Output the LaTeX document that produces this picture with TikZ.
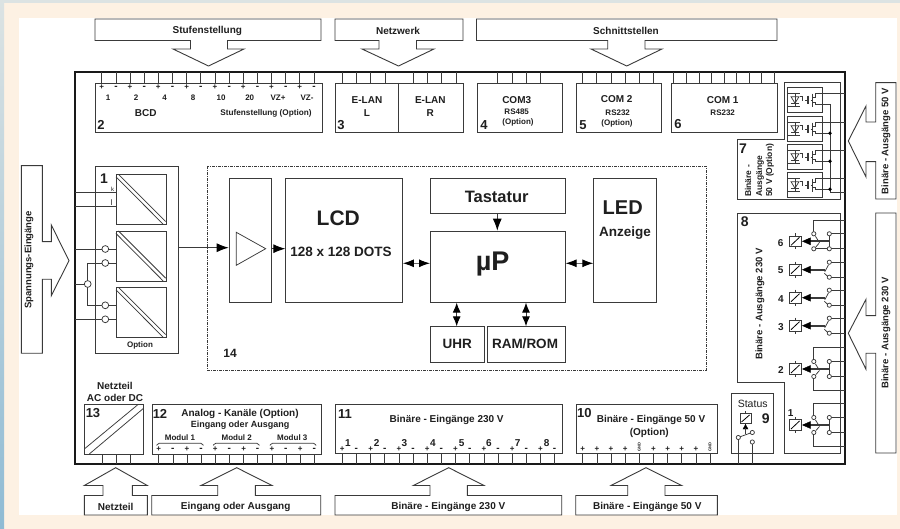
\documentclass[tikz,border=0pt]{standalone}
\usepackage{fontspec}
\setmainfont{Liberation Sans}
\usetikzlibrary{arrows.meta,calc}
\definecolor{cream}{HTML}{FDF1E3}
\definecolor{stripA}{HTML}{DCE3E3}
\definecolor{stripB}{HTML}{8FBBD4}
\definecolor{edge}{HTML}{3A3A3A}
\newcounter{tcnt}
\newcommand{\fs}[1]{\fontsize{#1}{#1}\selectfont}
% \tx[options]{x}{y}{size}{text}
\newcommand{\tx}[5][]{\stepcounter{tcnt}\node[lbl,#1] (t\arabic{tcnt}) at (#2,#3) {\fs{#4}#5};}
% \bx[options]{name}{x1}{y1}{x2}{y2}
\newcommand{\bx}[6][]{\pgfmathsetmacro{\bw}{#5-#3}\pgfmathsetmacro{\bh}{#6-#4}%
  \node[blk,#1,anchor=north west,minimum width=\bw pt,minimum height=\bh pt] (#2) at (#3,#4) {};}
% top arrow: box x1,x2 ; stem s1,s2 ; head h1,h2 ; tip
\newcommand{\toparrow}[7]{\draw[blk,line join=miter] (#1,19)--(#2,19)--(#2,40.5)--(#4,40.5)--(#4,49)--(#6,49)--(#7,66)--(#5,49)--(#3,49)--(#3,40.5)--(#1,40.5)--cycle;}
\newcommand{\botarrow}[7]{\draw[blk,line join=miter] (#1,515)--(#2,515)--(#2,495.5)--(#4,495.5)--(#4,485.5)--(#6,485.5)--(#7,467.7)--(#5,485.5)--(#3,485.5)--(#3,495.5)--(#1,495.5)--cycle;}
% right arrow: y1 y2 box ; n1 n2 notch ; h1 h2 head ; tip y
\newcommand{\rarrow}[7]{\draw[blk,line join=miter] (896,#1)--(875.7,#1)--(875.7,#3)--(866,#3)--(866,#5)--(848.3,#7)--(866,#6)--(866,#4)--(875.7,#4)--(875.7,#2)--(896,#2)--cycle;}
% optocoupler at top y
\newcommand{\opto}[1]{%
 \draw[blk] (787.3,#1) rectangle (822.7,#1+24.6);
 \draw[thinl] (787.3,#1+6) -- (800,#1+6) (787.3,#1+19) -- (800,#1+19);
 \draw[thinl] (795,#1+6)--(795,#1+19);
 \draw[thinl] (791,#1+9)--(799,#1+9)--(795,#1+15.5)--cycle;
 \draw[thinl] (791,#1+15.5)--(799,#1+15.5);
 \draw[thinl] (800,#1+9)--(802.5,#1+9)--(802.5,#1+13);
 \draw[thinl] (805,#1+12.3)--(808,#1+12.3);
 \draw[line width=1.1pt,edge] (808,#1+8)--(808,#1+16.5);
 \draw[thinl] (810.5,#1+12.3)--(812.5,#1+12.3);
 \draw[line width=1.1pt,edge] (812.5,#1+6)--(812.5,#1+19);
 \draw[thinl] (845,#1+6)--(815,#1+6)--(815,#1+10)--(812.5,#1+10);
 \draw[thinl] (812.5,#1+15)--(815,#1+15)--(815,#1+16.6)--(830,#1+16.6);
}
% relay coil, centre y
\newcommand{\coil}[1]{%
 \draw[thick,edge,fill=white] (789,#1-5.3) rectangle (801.7,#1+5.3);
 \draw[thinl] (795.3,#1-8)--(795.3,#1-5.3) (795.3,#1+5.3)--(795.3,#1+8);
 \draw[thick] (791,#1+4)--(799.5,#1-4);
}
% relay with single changeover contact
\newcommand{\relsingle}[1]{\coil{#1}
 \draw[line width=2pt,edge] (806,#1)--(825,#1);
 \draw[fill=black] (802.5,#1)--(810.5,#1-3.5)--(810.5,#1+3.5)--cycle;
 \draw[thinl] (828.6,#1-5)--(824.8,#1+2);
 \draw[thinl] (824.3,#1+3.5)--(827.5,#1+6.5);
 \draw[thinl] (829.3,#1-7.5)--(845,#1-7.5) (829.3,#1+7.5)--(845,#1+7.5);
 \draw[thinl,fill=white] (829.3,#1-7.5) circle (2.1) (829.3,#1+7.5) circle (2.1);
}
% relay with double contact, blades and fixed right contacts
\newcommand{\reldouble}[1]{\coil{#1}
 \draw[line width=2pt,edge] (806,#1)--(829.3,#1);
 \draw[line width=1.4pt,edge] (829.3,#1-7.5)--(829.3,#1+7.5);
 \draw[fill=black] (802.5,#1)--(810.5,#1-3.5)--(810.5,#1+3.5)--cycle;
 \draw[thinl] (815.5,#1-5)--(819.5,#1+1.5);
 \draw[thinl] (819,#1+2)--(816,#1+5.5);
 \draw[thinl] (829.3,#1-7.5)--(845,#1-7.5) (829.3,#1+7.5)--(845,#1+7.5);
 \draw[thinl] (813.8,#1-7.5)--(813.8,#1-21.3)--(845,#1-21.3);
}
\newcommand{\dotsrel}[1]{\draw[thinl,fill=white] (813.8,#1-7.5) circle (2.1) (813.8,#1+7.5) circle (2.1) (829.3,#1-7.5) circle (2.1) (829.3,#1+7.5) circle (2.1);}
\begin{document}
\begin{tikzpicture}[x=1pt,y=-1pt,
  lbl/.style={inner sep=0pt,font=\bfseries,text=black!88,align=center},
  blk/.style={draw=edge,line width=0.9pt,fill=white,inner sep=0pt},
  thinl/.style={draw=edge,line width=0.75pt},
  frm/.style={draw=black!90,line width=1.6pt},
  pin/.style={draw=edge,line width=0.7pt},
  ar/.style={-{Latex[length=12pt,width=9pt,color=black]},draw=edge,line width=0.9pt},
  dbl/.style={{Latex[length=11pt,width=8pt,color=black]}-{Latex[length=11pt,width=8pt,color=black]},draw=black!60,line width=0.9pt},
  dbv/.style={{Latex[length=10pt,width=8pt,color=black]}-{Latex[length=10pt,width=8pt,color=black]},draw=edge,line width=1pt},
  ]
\useasboundingbox (0,0) rectangle (900,529);
% page background
\fill[cream] (0,0) rectangle (900,529);
\shade[top color=stripA,bottom color=stripB] (0,0) rectangle (4,529);
\fill[stripA] (0,0) rectangle (900,3);
\fill[white] (19,18) rectangle (897,515);
% main frame
\draw[frm] (75,72) rectangle (845,464);
% pins top
\foreach \k in {0,...,15}{\draw[pin] ({101.7+14.15*\k},72)--({101.7+14.15*\k},83);}
\foreach \x in {342.7,356.7,370.7,385,413.3,427.3,441.7,456}{\draw[pin] (\x,72)--(\x,83);}
\foreach \x in {497.7,512,526,540.7}{\draw[pin] (\x,72)--(\x,83);}
\foreach \x in {582.3,596.7,611,625,639,653.7}{\draw[pin] (\x,72)--(\x,83);}
\foreach \x in {673.7,686.7,699.3,711.7,724,736.7,749,761.7,774}{\draw[pin] (\x,72)--(\x,83);}
% pins bottom
\foreach \x in {102,116,130}{\draw[pin] (\x,454)--(\x,464);}
\foreach \k in {0,...,11}{\draw[pin] ({158.7+14.15*\k},454)--({158.7+14.15*\k},464);}
\foreach \k in {0,...,15}{\draw[pin] ({342.3+14.16*\k},453.3)--({342.3+14.16*\k},464);}
\foreach \k in {0,...,9}{\draw[pin] ({582.7+14.15*\k},453.3)--({582.7+14.15*\k},464);}
% top boxes
\bx{b2}{95}{83}{321.5}{132.5}
\bx{b3}{335}{83}{463}{132.5}
\draw[blk] (398.7,83)--(398.7,132.5);
\bx{b4}{476.7}{83}{561.7}{132.5}
\bx{b5}{575.7}{83}{660.7}{132.5}
\bx{b6}{670.7}{83}{776.7}{132.5}
% outer arrows
\toparrow{95}{321}{190.5}{227.5}{173}{244}{208.5}
\toparrow{335}{463}{379}{416.5}{362}{434}{398.5}
\toparrow{476.5}{777}{607.7}{645}{591}{662}{626.7}
\botarrow{84.3}{147.3}{103}{132.3}{84.3}{147.3}{115.7}
\botarrow{151.7}{320.7}{217.7}{255.3}{201}{272}{236.7}
\botarrow{335}{561.7}{430}{467.3}{413.3}{484}{448.7}
\botarrow{575.7}{717.3}{627.7}{665}{611}{681.7}{646}
\rarrow{82.7}{199}{122}{161.7}{106}{177}{141}
\rarrow{213}{453}{315.7}{353.3}{299.3}{369.3}{333.3}
\draw[blk,line join=miter] (21.3,165.7)--(42.3,165.7)--(42.3,241.7)--(51.3,241.7)--(51.3,225)--(69,260.7)--(51.3,295.7)--(51.3,279.3)--(42.3,279.3)--(42.3,353.3)--(21.3,353.3)--cycle;
% block 1
\bx{b1}{95}{166}{178.3}{353.3}
\draw[thinl] (75,192.3)--(116,192.3) (75,206.7)--(116,206.7);
\draw[thinl] (75,249)--(116,249);
\draw[thinl] (75,319.3)--(116,319.3);
\draw[thinl] (75,284)--(87.7,284);
\draw[thinl] (116,263)--(87.7,263)--(87.7,305.3)--(116,305.3);
\foreach \c in {(105.3,249),(105.3,263),(105.3,305.3),(105.3,319.3),(87.7,284)}{\draw[thinl,fill=white] \c circle (3.4);}
\bx{c1}{116}{174.3}{165.7}{224.3}
\bx{c2}{116}{231}{165.7}{280.7}
\bx{c3}{116}{287.3}{165.7}{337.3}
\foreach \y in {174.3,231,287.3}{
 \draw[thinl] (118.5,\y)--(165.7,\y+47.2) (116,\y+2.5)--(163.2,\y+50);
}
% dashed block 14
\draw[edge,line width=0.8pt,dash pattern=on 3pt off 1pt on 1pt off 1pt] (207.3,166) rectangle (706,370);
\bx{amp}{228.7}{178}{270.7}{301.7}
\draw[thinl] (236.3,232.3)--(236.3,265.3)--(265.7,248.7)--cycle;
\bx{lcd}{285.3}{178}{402}{301.7}
\bx{up}{430}{230.7}{564.7}{301.7}
\bx{tast}{430}{178}{564.7}{213.3}
\bx{led}{593.3}{178}{656}{301.7}
\bx{uhr}{430}{326.3}{483.7}{361.7}
\bx{ram}{487}{326.3}{564.7}{361.7}
\draw[ar] (b1.east |- 0,247.7) -- (amp.west |- 0,247.7);
\draw[ar] (amp.east |- 0,248.7) -- (lcd.west |- 0,248.7);
\draw[dbl] (lcd.east |- 0,263.3) -- (up.west |- 0,263.3);
\draw[dbl] (up.east |- 0,263.3) -- (led.west |- 0,263.3);
\draw[ar] (tast.south -| 497.3,0) -- (up.north -| 497.3,0);
\draw[dbv] (up.south -| 456.7,0) -- (uhr.north -| 456.7,0);
\draw[dbv] (up.south -| 526,0) -- (ram.north -| 526,0);
% block 7
\draw[blk,line join=miter] (784,82.7)--(840,82.7)--(840,199.3)--(737.3,199.3)--(737.3,139.3)--(784,139.3)--cycle;
\opto{87.7}\opto{116.7}\opto{144.7}\opto{172.7}
\draw[thinl] (830,104.3)--(830,192.3)--(845,192.3);
\foreach \y in {133.3,161.3,189.3}{\fill[black] (830,\y) circle (1.9);}
% block 8
\draw[blk,line join=miter] (737.3,213.3)--(840,213.3)--(840,453.3)--(784,453.3)--(784,382.7)--(737.3,382.7)--cycle;
\reldouble{241.3}
\draw[thinl] (813.8,248.8)--(845,248.8);
\dotsrel{241.3}
\relsingle{269.7}\relsingle{297.7}\relsingle{325.7}
\reldouble{369}
\draw[thinl] (813.8,376.5)--(813.8,390)--(845,390);
\dotsrel{369}
\reldouble{425}
\draw[thinl] (813.8,432.5)--(813.8,446)--(845,446);
\dotsrel{425}
% status 9
\bx{b9}{730.7}{393.3}{773.3}{453.3}
\draw[thinl] (738.3,464)--(738.3,437.5) (752.3,464)--(752.3,442);
\draw[thick,edge,fill=white] (740,413.5) rectangle (751,423.5);
\draw[thinl] (745.5,411)--(745.5,413.5);
\draw[thick] (741.5,422)--(749.5,415);
\draw[thinl] (745.5,423.5)--(745.5,433);
\draw[fill=black] (745.5,424.5)--(743,429)--(748,429)--cycle;
\draw[line width=1.4pt,edge] (745.5,428)--(745.5,434);
\draw[thinl] (739.5,437)--(750.5,433);
\draw[thinl,fill=white] (738.3,437.5) circle (2.1) (752.3,432.5) circle (2.1) (752.3,442) circle (2.1);
% bottom blocks
\bx{b13}{84.3}{404.3}{143.3}{454}
\draw[thinl] (84.3,449)--(138.3,404.3) (89.3,454)--(143.3,408.5);
\bx{b12}{151.7}{404.3}{320.7}{454}
\bx{b11}{335}{404.3}{561.7}{453.3}
\bx{b10}{575.7}{404.3}{717.3}{453.3}
% Modul brackets
\foreach \a/\b in {156.7/203.3,213.3/259.3,270/316}{
 \draw[thinl,rounded corners=1.5pt] (\a,445.5)--(\a+1,443.3)--(\b-1,443.3)--(\b,445.5);
}
% texts top
\tx{207.3}{31}{10}{Stufenstellung}
\tx{398}{31}{10}{Netzwerk}
\tx{626}{31}{10}{Schnittstellen}
\foreach \k in {0,...,7}{
 \tx{101.7+28.3*\k}{87}{8}{+}
 \tx{116+28.3*\k}{87.5}{10}{-}
}
\tx{108}{97.5}{8}{1}\tx{136}{97.5}{8}{2}\tx{164.7}{97.5}{8}{4}\tx{193}{97.5}{8}{8}
\tx{221}{97.5}{8}{10}\tx{249.7}{97.5}{8}{20}\tx{278}{97.5}{8}{VZ+}\tx{307}{97.5}{8}{VZ-}
\tx{145.7}{113}{10}{BCD}
\tx{266}{113}{8.2}{Stufenstellung (Option)}
\tx{101}{125}{13}{2}
\tx{367}{100}{10}{E-LAN}\tx{367}{113}{10}{L}
\tx{430.3}{100}{10}{E-LAN}\tx{430.3}{113}{10}{R}
\tx{341}{125}{13}{3}
\tx{516.7}{100}{10}{COM3}\tx{516.7}{112}{8}{RS485}\tx{518}{122}{8}{(Option)}
\tx{484}{125}{13}{4}
\tx{616.7}{99.5}{10}{COM 2}\tx{617.7}{113}{8}{RS232}\tx{617}{123}{8}{(Option)}
\tx{583}{125}{13}{5}
\tx{722.7}{100.5}{10}{COM 1}\tx{722.7}{113}{8}{RS232}
\tx{678}{124}{13}{6}
% left
\tx[rotate=90]{29}{260}{9.5}{Spannungs-Eingänge}
\tx{104}{179}{14}{1}
\tx[font=\normalfont]{112.5}{189}{6}{k}
\tx[font=\normalfont]{111.7}{203}{8}{l}
\tx{140}{345}{8}{Option}
% central
\tx{230}{353.5}{12}{14}
\tx{338.3}{218}{21}{LCD}
\tx{341}{251.5}{13.5}{128 x 128 DOTS}
\tx{496.7}{197}{16.5}{Tastatur}
\tx{492.7}{264}{27}{µP}
\tx{622.7}{208}{20}{LED}
\tx{625}{233.5}{13.5}{Anzeige}
\tx{457.3}{344}{13.5}{UHR}
\tx{525}{344}{13.5}{RAM/ROM}
% right
\tx{743}{149}{14}{7}
\tx[rotate=90,anchor=west]{748}{197}{8.5}{Binäre -}
\tx[rotate=90,anchor=west]{760}{197}{8.5}{Ausgänge}
\tx[rotate=90,anchor=west]{770}{197}{8.5}{50 V (Option)}
\tx{744.7}{222}{14}{8}
\tx[rotate=90]{760}{304}{9.5}{Binäre - Ausgänge 230 V}
\tx[rotate=90]{886}{141}{9.5}{Binäre - Ausgänge 50 V}
\tx[rotate=90]{886}{333}{9.5}{Binäre - Ausgänge 230 V}
\tx{780.7}{242.7}{10}{6}\tx{780.7}{270.5}{10}{5}\tx{781}{299}{10}{4}
\tx{781}{327}{10}{3}\tx{781}{370}{10}{2}\tx{790.7}{413.3}{10}{1}
\tx[font=\normalfont]{752.7}{403.7}{10.5}{Status}
\tx{765.7}{419}{14}{9}
% bottom
\tx{115}{385.7}{10}{Netzteil}\tx{115}{398.3}{10}{AC oder DC}
\tx{93}{413}{13}{13}
\tx{160}{414}{13}{12}
\tx{240}{414.3}{10}{Analog - Kanäle (Option)}
\tx{240}{425}{9}{Eingang oder Ausgang}
\tx{180}{437.7}{8}{Modul 1}\tx{236.7}{437.7}{8}{Modul 2}\tx{292.3}{437.7}{8}{Modul 3}
\foreach \k in {0,...,5}{
 \tx{158.7+28.3*\k}{449.3}{8}{+}
 \tx{172.7+28.3*\k}{449.8}{10}{-}
}
\tx{345}{414}{13}{11}
\tx{446.7}{420}{10}{Binäre - Eingänge 230 V}
\foreach \x/\n in {348/1,376.7/2,404.3/3,433/4,461.7/5,489/6,517.7/7,546.7/8}{\tx{\x}{442.7}{10}{\n}}
\foreach \k in {0,...,7}{
 \tx{342.3+28.32*\k}{449.3}{8}{+}
 \tx{356.4+28.32*\k}{449.8}{10}{-}
}
\tx{584.3}{412.7}{13}{10}
\tx{651}{420}{10}{Binäre - Eingänge 50 V}
\tx{649.3}{432.7}{10}{(Option)}
\foreach \x in {582.7,596.9,611,625.2,653.5,667.7,681.8,696}{\tx{\x}{449.3}{8}{+}}
\tx[rotate=90]{639.3}{446.7}{4}{GND}
\tx[rotate=90]{710}{446.7}{4}{GND}
\tx{115.7}{506.7}{10}{Netzteil}
\tx{235.7}{506.7}{10}{Eingang oder Ausgang}
\tx{448.3}{506.7}{10}{Binäre - Eingänge 230 V}
\tx{647.3}{506.7}{10}{Binäre - Eingänge 50 V}
\end{tikzpicture}
\end{document}
